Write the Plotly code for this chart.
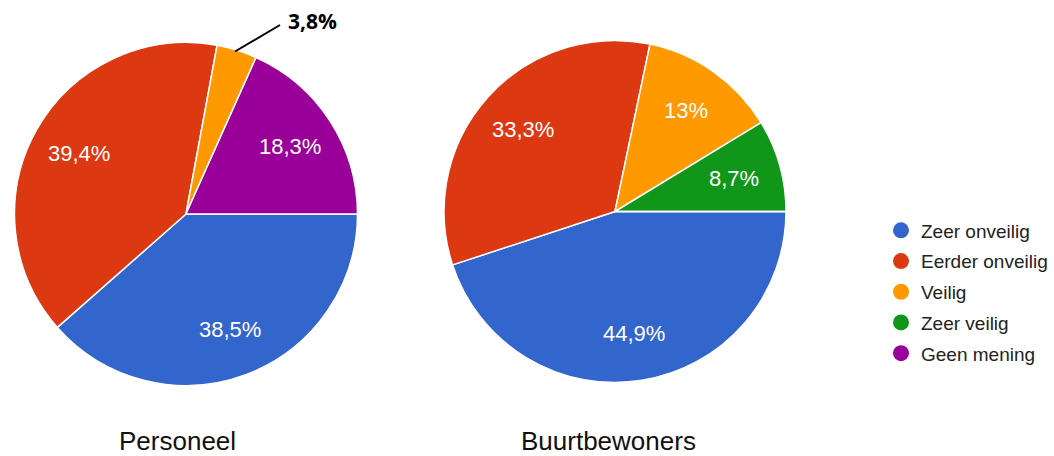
import math
import plotly.graph_objects as go

# Survey answers per group (percentages)
categories = ["Zeer onveilig", "Eerder onveilig", "Veilig", "Zeer veilig", "Geen mening"]
personeel = [38.5, 39.4, 3.8, 0.0, 18.3]
buurtbewoners = [44.9, 33.3, 13.0, 8.7, 0.0]
group_titles = ["Personeel", "Buurtbewoners"]
colors = ["#3366CC", "#DC3912", "#FF9900", "#109618", "#990099"]

W, H = 1054, 456
LABEL_FONT = "Liberation Sans, Arial"

# pie geometry in pixels: centre x, centre y, radius
pies = [
    (personeel, (186.0, 214.0, 171.5)),
    (buurtbewoners, (615.0, 211.5, 171.0)),
]


def fmt(v):
    return f"{v:g}".replace(".", ",") + "%"


fig = go.Figure()
for values, (cx, cy, r) in pies:
    fig.add_trace(go.Pie(
        labels=categories,
        values=values,
        textinfo="none",
        marker=dict(colors=colors, line=dict(color="white", width=1.5)),
        sort=False,
        direction="clockwise",
        rotation=90,
        showlegend=False,
        hoverinfo="label+percent",
        domain=dict(x=[(cx - r) / W, (cx + r) / W], y=[1 - (cy + r) / H, 1 - (cy - r) / H]),
    ))

    # value labels inside the slices, placed along each slice's bisector
    total = sum(values)
    start = 0.0
    for v in values:
        sweep = 360.0 * v / total
        mid = math.radians(start + sweep / 2)  # clockwise from 3 o'clock
        start += sweep
        if v < 5:
            continue
        lx = cx + 0.72 * r * math.cos(mid)
        ly = cy + 0.72 * r * math.sin(mid)
        fig.add_annotation(text=fmt(v), x=lx / W, y=1 - ly / H, xref="paper", yref="paper",
                           showarrow=False, xanchor="center", yanchor="middle",
                           font=dict(family=LABEL_FONT, size=22, color="white"))

# Legend entries with round markers
for i, (cat, col) in enumerate(zip(categories, colors)):
    fig.add_trace(go.Scatter(
        x=[None], y=[None], mode="markers", name=cat,
        marker=dict(symbol="circle", size=16, color=col),
        legendgroup=f"g{i}", showlegend=True,
    ))

# Group titles under the pies
for title, xc in zip(group_titles, [177.5, 608]):
    fig.add_annotation(text=title, x=xc / W, y=1 - 441 / H, xref="paper", yref="paper",
                       showarrow=False, xanchor="center", yanchor="middle",
                       font=dict(family=LABEL_FONT, size=26, color="#111111"))

# Callout for the small "Veilig" slice of Personeel
fig.add_shape(type="line", xref="paper", yref="paper",
              x0=235 / W, y0=1 - 51.5 / H, x1=280 / W, y1=1 - 25 / H,
              line=dict(color="black", width=2))
fig.add_annotation(text="<b>" + fmt(personeel[2]) + "</b>",
                   x=286 / W, y=1 - 21 / H, xref="paper", yref="paper",
                   showarrow=False, xanchor="left", yanchor="middle",
                   font=dict(family="Open Sans, Arial", size=21, color="black"))

fig.update_layout(
    width=W, height=H,
    margin=dict(l=0, r=0, t=0, b=0),
    paper_bgcolor="white", plot_bgcolor="white",
    xaxis=dict(visible=False), yaxis=dict(visible=False),
    legend=dict(x=881 / W, y=1 - 211.5 / H, xanchor="left", yanchor="top",
                font=dict(family=LABEL_FONT, size=19, color="#222222"),
                tracegroupgap=3, itemsizing="trace", bgcolor="rgba(0,0,0,0)"),
)

fig.write_html("out.html")
